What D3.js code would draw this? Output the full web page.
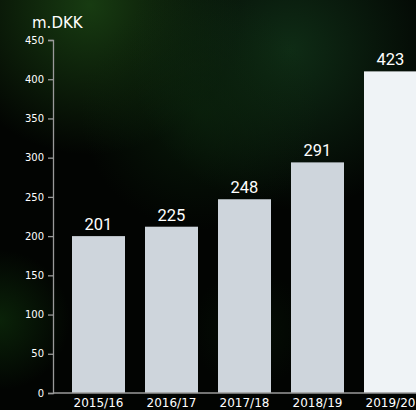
<!DOCTYPE html>
<html>
<head>
<meta charset="utf-8">
<script src="https://cdn.jsdelivr.net/npm/d3@7"></script>
<style>
  html, body { margin: 0; padding: 0; background: #000; overflow: hidden; }
  svg { display: block; }
</style>
</head>
<body>
<div id="chart"></div>
<script>
var years = ["2015/16", "2016/17", "2017/18", "2018/19", "2019/20"];
// bar heights as drawn in the picture
var barHeights = [200, 212, 247, 294, 410];
// printed labels above the bars
var valueLabels = ["201", "225", "248", "291", "423"];
var yTicks = [0, 50, 100, 150, 200, 250, 300, 350, 400, 450];
var unitLabel = "m.DKK";

var width = 416;
var height = 410;

var svg = d3.select("#chart").append("svg")
  .attr("width", width)
  .attr("height", height);

// background: dark photo with green glows
var defs = svg.append("defs");
var glows = [
  {id: "g1", cx: 90, cy: 5, r: 150, color: "#1b4514", op: 0.85},
  {id: "g2", cx: 290, cy: 50, r: 160, color: "#12361a", op: 0.8},
  {id: "g3", cx: 200, cy: 110, r: 120, color: "#0c280d", op: 0.6},
  {id: "g4", cx: 0, cy: 320, r: 70, color: "#0c2a0a", op: 0.8},
  {id: "g5", cx: 250, cy: 330, r: 60, color: "#071a07", op: 0.5}
];
glows.forEach(function(g) {
  var grad = defs.append("radialGradient").attr("id", g.id);
  grad.append("stop").attr("offset", "0%").attr("stop-color", g.color).attr("stop-opacity", g.op);
  grad.append("stop").attr("offset", "100%").attr("stop-color", g.color).attr("stop-opacity", 0);
});
svg.append("rect").attr("width", width).attr("height", height).attr("fill", "#020402");
svg.append("g").selectAll("circle")
  .data(glows)
  .enter()
  .append("circle")
  .attr("cx", g => g.cx)
  .attr("cy", g => g.cy)
  .attr("r", g => g.r)
  .attr("fill", g => "url(#" + g.id + ")");

const xScale = d3.scaleBand()
  .domain(years)
  .range([62, 427])
  .paddingInner(0.274)
  .paddingOuter(0.137);
const yScale = d3.scaleLinear()
  .domain([0, 450])
  .range([393, 40]);

// bars
svg.append("g").selectAll("rect")
  .data(years)
  .enter()
  .append("rect")
  .attr("x", d => xScale(d))
  .attr("y", (d, i) => yScale(barHeights[i]))
  .attr("width", xScale.bandwidth())
  .attr("height", (d, i) => yScale(0) - yScale(barHeights[i]))
  .attr("fill", (d, i) => i == years.length - 1 ? "#eff3f6" : "#ced5dc");

// value labels
svg.append("g").selectAll("text")
  .data(years)
  .enter()
  .append("text")
  .attr("x", d => xScale(d) + xScale.bandwidth() / 2)
  .attr("y", (d, i) => yScale(barHeights[i]) - 6)
  .attr("text-anchor", "middle")
  .attr("fill", "#ffffff")
  .style("font", "16.5px Roboto")
  .text((d, i) => valueLabels[i]);

// y axis
var yAxis = svg.append("g")
  .attr("transform", "translate(53,0)")
  .call(d3.axisLeft(yScale).tickValues(yTicks).tickSize(5).tickPadding(4));
yAxis.select(".domain").attr("stroke", "#9a9a9a").attr("stroke-width", 1.3);
yAxis.selectAll(".tick line").attr("stroke", "#9a9a9a").attr("stroke-width", 1.3);
yAxis.selectAll(".tick text")
  .attr("fill", "#ffffff")
  .style("font", "10px 'DejaVu Sans'");

// x axis
var xAxis = svg.append("g")
  .attr("transform", "translate(0,393)")
  .call(d3.axisBottom(xScale).tickSize(0).tickPadding(5));
xAxis.select(".domain")
  .attr("d", "M53,0H" + width)
  .attr("stroke", "#9a9a9a")
  .attr("stroke-width", 1.3);
xAxis.selectAll(".tick text")
  .attr("fill", "#ffffff")
  .attr("dy", "0.72em")
  .style("font", "12px 'DejaVu Sans'");

// unit label
svg.append("text")
  .attr("x", 32)
  .attr("y", 28)
  .attr("fill", "#ffffff")
  .style("font", "15px 'DejaVu Sans'")
  .text(unitLabel);
</script>
</body>
</html>
